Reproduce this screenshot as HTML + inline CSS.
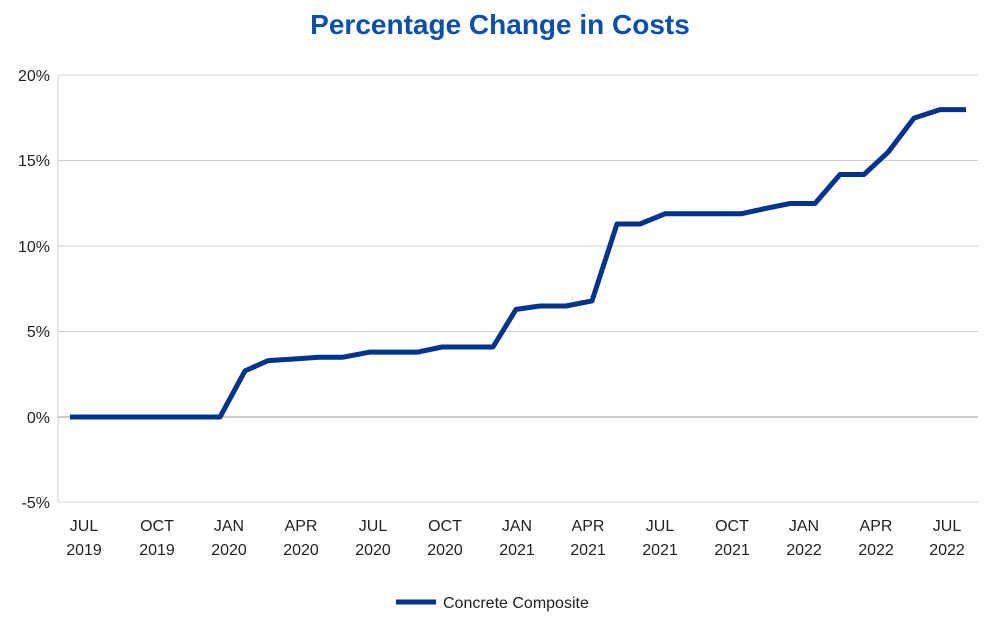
<!DOCTYPE html>
<html><head><style>
body{margin:0;background:#fff;width:1000px;height:639px;overflow:hidden;font-family:"Liberation Sans",sans-serif}
</style></head><body>
<svg width="1000" height="639" xmlns="http://www.w3.org/2000/svg" font-family="Liberation Sans, sans-serif">
<text x="500" y="34" text-anchor="middle" font-size="28" font-weight="bold" fill="#0b4fae">Percentage Change in Costs</text>
<g stroke="#cfcfcf" stroke-width="1">
<line x1="58" y1="75" x2="978" y2="75"/>
<line x1="58" y1="160.5" x2="978" y2="160.5"/>
<line x1="58" y1="246" x2="978" y2="246"/>
<line x1="58" y1="331.5" x2="978" y2="331.5"/>
<line x1="58" y1="502" x2="978" y2="502"/>
<line x1="58" y1="75" x2="58" y2="502"/>
</g>
<line x1="58" y1="417" x2="978" y2="417" stroke="#999" stroke-width="1"/>
<g font-size="16" fill="#222" text-anchor="end">
<text x="50" y="81">20%</text><text x="50" y="166">15%</text><text x="50" y="252">10%</text>
<text x="50" y="337">5%</text><text x="50" y="423">0%</text><text x="50" y="508">-5%</text>
</g>
<g font-size="16" fill="#222" text-anchor="middle">
<text x="84" y="531">JUL</text><text x="84" y="555">2019</text>
<text x="157" y="531">OCT</text><text x="157" y="555">2019</text>
<text x="229" y="531">JAN</text><text x="229" y="555">2020</text>
<text x="301" y="531">APR</text><text x="301" y="555">2020</text>
<text x="373" y="531">JUL</text><text x="373" y="555">2020</text>
<text x="445" y="531">OCT</text><text x="445" y="555">2020</text>
<text x="517" y="531">JAN</text><text x="517" y="555">2021</text>
<text x="588" y="531">APR</text><text x="588" y="555">2021</text>
<text x="660" y="531">JUL</text><text x="660" y="555">2021</text>
<text x="732" y="531">OCT</text><text x="732" y="555">2021</text>
<text x="804" y="531">JAN</text><text x="804" y="555">2022</text>
<text x="876" y="531">APR</text><text x="876" y="555">2022</text>
<text x="947" y="531">JUL</text><text x="947" y="555">2022</text>
</g>
<polyline fill="none" stroke="#00338d" stroke-width="5" stroke-linejoin="round" points="70,417 220,417 245,370.9 268,360.6 294,359 319,357.2 343,357.2 370,352.1 394,352.1 418,352.1 442,347 467,347 493,347 516,309.4 540,306 566,306 592,300.9 617,224 640,224 665,213.8 690,213.8 716,213.8 741,213.8 765,208.6 790,203.5 815,203.5 840,174.5 864,174.5 888,152.3 914,118.1 940,109.6 966,109.6"/>
<line x1="396" y1="602" x2="436" y2="602" stroke="#00338d" stroke-width="5"/>
<text x="443" y="608" font-size="16" fill="#222">Concrete Composite</text>
</svg>
</body></html>
